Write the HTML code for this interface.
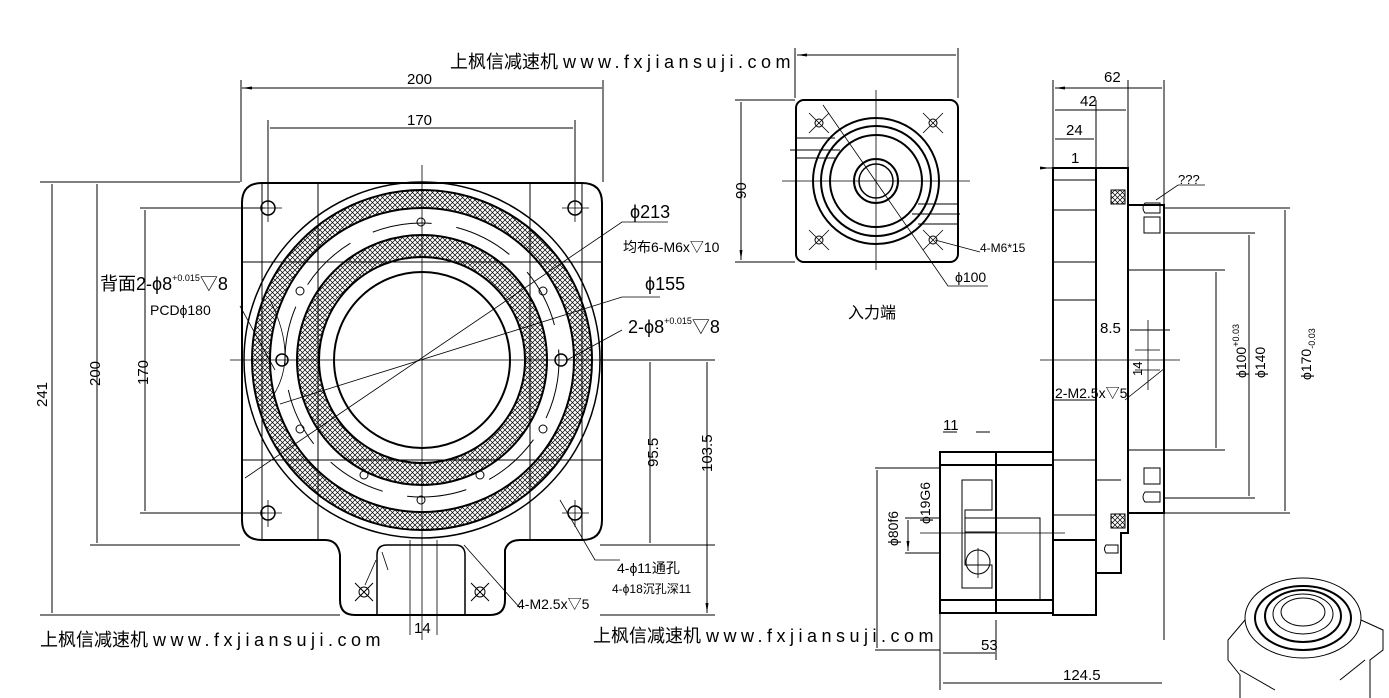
<!DOCTYPE html>
<html><head><meta charset="utf-8"><style>
html,body{margin:0;padding:0;background:#fff;}
svg{display:block;}
text{font-family:"Liberation Sans","Noto Sans CJK SC",sans-serif;fill:#000;}
.n{font-family:"Liberation Sans Narrow","Liberation Sans","Noto Sans CJK SC",sans-serif;}
</style></head><body>
<svg width="1389" height="698" viewBox="0 0 1389 698" xmlns="http://www.w3.org/2000/svg">
<defs>
<pattern id="h" width="5" height="5" patternUnits="userSpaceOnUse">
<path d="M0 0L5 5M5 0L0 5" stroke="#000" stroke-width="0.7"/>
</pattern>
<marker id="a" markerWidth="10" markerHeight="6" refX="10" refY="3" orient="auto-start-reverse" markerUnits="userSpaceOnUse"><path d="M0 1.5L10 3L0 4.5z" fill="#000"/></marker>
<marker id="b" markerWidth="10" markerHeight="6" refX="10" refY="3" orient="auto" markerUnits="userSpaceOnUse"><path d="M0 1.5L10 3L0 4.5z" fill="#000"/></marker>
</defs>
<rect width="1389" height="698" fill="#fff"/>
<g fill="none" stroke="#000" stroke-width="1">

<path d="M241 80V182M603 80V182M268 120V205M575 120V205M40 182H240M40 615H340M90 545H240M140 208H265M140 513H265M600 545H715M600 360H715"/>
<path d="M242 88H602M270 128H573M52 184V613M97 184V543M145 210V511M650 362V543M707 362V613" marker-start="url(#a)" marker-end="url(#b)"/>
<path d="M600 615H715"/>
<path stroke-width="2" d="M262 183H582Q602 183 602 203V520Q602 540 582 540H520Q508 540 505 550V600Q505 615 490 615H355Q340 615 340 600V555Q338 540 325 540H262Q242 540 242 520V203Q242 183 262 183Z"/>
<path stroke-width="1.5" d="M377 615V555Q377 545 387 545H455Q465 545 465 555V615"/>
<path d="M242 262H602M242 460H602M262 183V540M582 183V540M318 183V540M530 183V540"/>
<circle cx="422" cy="360" r="178" stroke-width="1.5"/>
<path fill="url(#h)" fill-rule="evenodd" stroke-width="2" d="M252 360a170 170 0 1 0 340 0a170 170 0 1 0 -340 0ZM270 360a152 152 0 1 0 304 0a152 152 0 1 0 -304 0Z"/>
<path fill="url(#h)" fill-rule="evenodd" stroke-width="2" d="M297 360a125 125 0 1 0 250 0a125 125 0 1 0 -250 0ZM319 360a103 103 0 1 0 206 0a103 103 0 1 0 -206 0Z"/>
<circle cx="422" cy="360" r="88" stroke-width="2"/>
<circle cx="422" cy="360" r="137" stroke-dasharray="60 25"/>
<g stroke-width="1.5">
<circle cx="268" cy="208" r="7"/><circle cx="575" cy="208" r="7"/><circle cx="268" cy="513" r="7"/><circle cx="575" cy="513" r="7"/>
<circle cx="282" cy="360" r="6"/><circle cx="561" cy="360" r="6"/>
</g>
<g>
<circle cx="421" cy="222" r="4"/><circle cx="421" cy="500" r="4"/><circle cx="300" cy="291" r="4"/><circle cx="543" cy="291" r="4"/><circle cx="300" cy="429" r="4"/><circle cx="543" cy="429" r="4"/>
<circle cx="364" cy="475" r="4"/><circle cx="480" cy="475" r="4"/>
<circle cx="364" cy="592" r="5"/><circle cx="480" cy="592" r="5"/>
<path d="M355 583l18 18M373 583l-18 18M471 583l18 18M489 583l-18 18"/>
</g>
<path stroke-width="0.8" d="M230 360H615M422 165V640M255 208H282M268 195V222M562 208H589M575 195V222M255 513H282M268 500V527M562 513H589M575 500V527"/>
<path stroke-width="0.8" d="M245 478L622 222H668M280 404L622 297H660M270 300Q300 360 270 400M240 306L275 370M567 360L622 330M560 500L595 560H620M464 545L520 608M410 540V635M437 540V635M382 552L388 570M376 560L365 585"/>

<path d="M795 48V98M958 48V98M735 100H795M735 262H795"/>
<path d="M797 55H956M741 102V260" marker-start="url(#a)" marker-end="url(#b)"/>
<rect x="796" y="100" width="162" height="162" rx="8" stroke-width="2"/>
<circle cx="876" cy="181" r="63" stroke-width="2"/>
<circle cx="876" cy="181" r="55" stroke-width="2"/>
<circle cx="876" cy="181" r="46" stroke-width="2"/>
<circle cx="876" cy="181" r="22" stroke-width="2"/>
<circle cx="876" cy="181" r="17" stroke-width="1.5"/>
<path d="M796 138H835M790 150H840M796 158H835M918 204H958M912 214H960M918 224H958"/>
<circle cx="819" cy="123" r="4"/><circle cx="933" cy="123" r="4"/><circle cx="819" cy="240" r="4"/><circle cx="933" cy="240" r="4"/>
<path stroke-width="0.8" d="M809 113l20 20M829 113l-20 20M923 113l20 20M943 113l-20 20M809 230l20 20M829 230l-20 20M923 230l20 20M943 230l-20 20"/>
<path stroke-width="0.8" d="M782 181H970M876 90V270M823 105L948 286H988M935 240L980 252"/>

<path d="M1053 80V168M1096 100V168M1128 80V168M1164 80V640M1047 168H1053M1164 208H1290M1164 233H1255M1128 270H1225M1128 450H1225M1164 498H1255M1164 513H1290M940 600V690M996 620V660M940 468H875M940 650H875M940 518H905M940 553H905M1130 330H1170"/>
<path d="M1055 88H1162M1055 110H1126M1055 139H1094M1285 210V511M1249 235V496M1216 272V448M943 432H957M976 432H990M943 653H995M943 683H1162M877 470V648M908 520V551" marker-start="url(#a)" marker-end="url(#b)"/>
<path d="M1040 168H1050" marker-end="url(#b)"/>
<path d="M1053 540v75H1096V540M1096 168H1128V533H1121V573H1096Z" stroke-width="2"/>
<path stroke-width="2" d="M1053 168H1096V540H1053ZM1128 205H1164V513H1128Z"/>
<path d="M1053 180H1096M1053 210H1096M1053 262H1096M1053 300H1096M1053 400H1096M1053 460H1096M1053 515H1096M1096 480H1121"/>
<path stroke-width="2" d="M940 452H1053V613H940ZM996 452V613M940 465H1053M940 600H1053"/>
<path d="M962 480H992V510H965V565H992V588H962ZM965 518H1040V600M965 532H996"/>
<circle cx="978" cy="562" r="12"/>
<path stroke-width="0.8" d="M920 533H1065M978 548V578"/>
<g fill="url(#h)"><rect x="1111" y="190" width="14" height="14"/><rect x="1111" y="514" width="14" height="14"/><rect x="1144" y="217" width="16" height="16" fill="#fff"/><rect x="1144" y="468" width="16" height="16" fill="#fff"/></g>
<path d="M1145 203h15v10h-15q-4-5 0-10ZM1145 492h15v10h-15q-4-5 0-10ZM1106 545h12v8h-12q-3-4 0-8Z"/>
<path stroke-width="0.8" d="M1040 360H1180M1148 320V390M1135 350H1160M1135 370H1160M1125 400L1165 368M1156 200L1178 185H1205"/>

<g stroke-width="1">
<ellipse cx="1303" cy="618" rx="58" ry="40"/>
<ellipse cx="1303" cy="618" rx="48" ry="32" stroke-width="2"/>
<ellipse cx="1303" cy="616" rx="38" ry="26" stroke-width="2"/>
<ellipse cx="1303" cy="614" rx="30" ry="20"/>
<ellipse cx="1303" cy="612" rx="22" ry="14"/>
<path d="M1245 620L1228 640V660L1240 675V698M1361 620L1383 630V650L1370 660V698M1240 670L1275 690M1340 680L1365 660"/>
</g>
</g>

<g font-size="15" class="n">
<text x="407" y="84">200</text>
<text x="407" y="125">170</text>
<text x="35" y="395" transform="rotate(-90 47 395)">241</text>
<text x="78" y="380" transform="rotate(-90 92 372)">200</text>
<text x="125" y="378" transform="rotate(-90 140 370)">170</text>
<text x="636" y="465" transform="rotate(-90 648 455)">95.5</text>
<text x="690" y="470" transform="rotate(-90 702 460)">103.5</text>
<text x="414" y="633">14</text>
<text x="722" y="195" transform="rotate(-90 736 185)">90</text>
<text x="1104" y="82">62</text>
<text x="1080" y="106">42</text>
<text x="1066" y="135">24</text>
<text x="1071" y="163">1</text>
<text x="943" y="430">11</text>
<text x="981" y="650">53</text>
<text x="1063" y="680">124.5</text>
<text x="1100" y="333">8.5</text>
<text x="1178" y="184" font-size="13">???</text>
<text x="1120" y="366" transform="rotate(-90 1136 360)" font-size="13">14</text>
</g>
<g font-size="18" class="n">
<text x="630" y="218">ϕ213</text>
<text x="645" y="290">ϕ155</text>
<text x="628" y="333">2-ϕ8<tspan font-size="9" dy="-9">+0.015</tspan><tspan dy="9">▽8</tspan></text>
<text x="100" y="290">背面2-ϕ8<tspan font-size="9" dy="-9">+0.015</tspan><tspan dy="9">▽8</tspan></text>
</g>
<g font-size="14" class="n">
<text x="623" y="252">均布6-M6x▽10</text>
<text x="150" y="315">PCDϕ180</text>
<text x="617" y="573">4-ϕ11通孔</text>
<text x="612" y="593" font-size="12">4-ϕ18沉孔深11</text>
<text x="517" y="609">4-M2.5x▽5</text>
<text x="980" y="252" font-size="12">4-M6*15</text>
<text x="955" y="282">ϕ100</text>
<text x="848" y="318" font-size="16">入力端</text>
<text x="1055" y="398">2-M2.5x▽5</text>
<text x="1188" y="400" transform="rotate(-90 1206 360)">ϕ100<tspan font-size="9" dy="-7">+0.03</tspan></text>
<text x="1222" y="385" transform="rotate(-90 1240 360)">ϕ140</text>
<text x="1256" y="395" transform="rotate(-90 1276 360)">ϕ170<tspan font-size="9" dy="4">-0.03</tspan></text>
<text x="882" y="590" transform="rotate(-90 868 560)">ϕ80f6</text>
<text x="913" y="563" transform="rotate(-90 902 535)">ϕ19G6</text>
</g>
<g font-size="18">
<text x="450" y="68">上枫信减速机   <tspan letter-spacing="4.5">www.fxjiansuji.com</tspan></text>
<text x="40" y="646">上枫信减速机   <tspan letter-spacing="4.5">www.fxjiansuji.com</tspan></text>
<text x="593" y="642">上枫信减速机   <tspan letter-spacing="4.5">www.fxjiansuji.com</tspan></text>
</g>
</svg>
</body></html>
